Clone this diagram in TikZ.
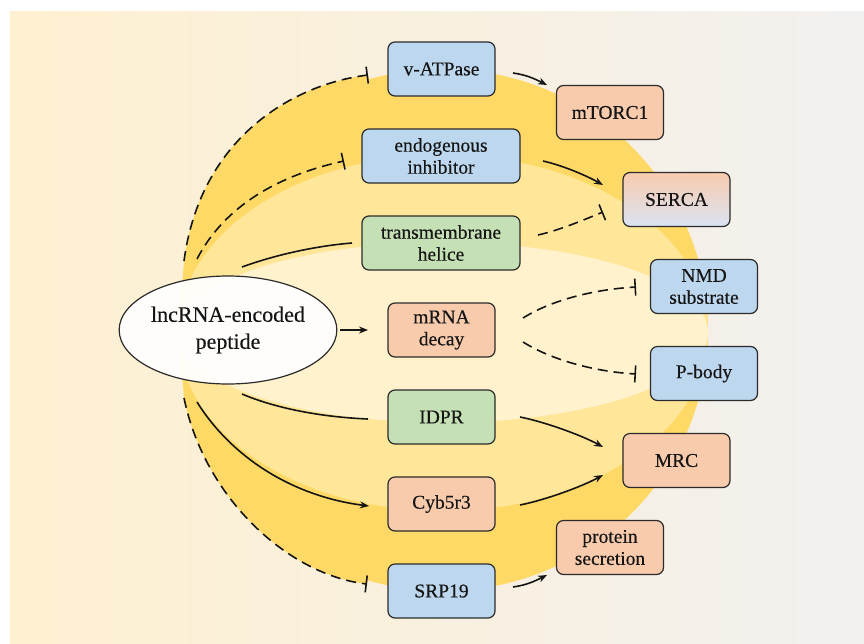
\documentclass[tikz,border=0pt]{standalone}
\usepackage{fontspec}
\setmainfont{Liberation Serif}
\newfontfamily\serifnode{Liberation Serif}[FakeBold=0.3]
\usetikzlibrary{arrows.meta,calc,shapes.geometric}
\definecolor{bgL}{HTML}{FEF0D0}
\definecolor{bgR}{HTML}{F2F0EF}
\definecolor{goldA}{HTML}{FFD966}
\definecolor{goldB}{HTML}{FFE699}
\definecolor{goldC}{HTML}{FFF2CC}
\definecolor{boxblue}{HTML}{BDD7EE}
\definecolor{boxorange}{HTML}{F8CBAD}
\definecolor{boxgreen}{HTML}{C5E0B4}
\definecolor{serbot}{HTML}{DAE3F3}
\definecolor{edgec}{HTML}{2B2B2B}
\definecolor{inkc}{HTML}{151515}
\begin{document}
\begin{tikzpicture}[x=1pt,y=-1pt,
  nbox/.style={draw=edgec, line width=1.2pt, rounded corners=7pt, minimum height=54pt,
    inner sep=0pt, align=center, text=inkc, font=\serifnode\fontsize{19.5}{22}\selectfont},
  sbox/.style={nbox, minimum width=107pt},
  wbox/.style={nbox, minimum width=158pt},
  fblue/.style={fill=boxblue},
  forange/.style={fill=boxorange},
  fgreen/.style={fill=boxgreen},
  link/.style={line width=1.6pt, draw=inkc},
  act/.style={link, -{Stealth[length=9pt,width=7pt]}},
  inh/.style={link, dash pattern=on 10pt off 6pt, -{Bar[width=17pt]}},
]
\useasboundingbox (0,0) rectangle (864,643);
% background
\shade[left color=bgL, right color=bgR] (10,11) rectangle (864,643);
% layered yellow shapes
\fill[goldA] (443,330) ellipse [x radius=265pt, y radius=261pt];
\fill[goldA] (368,75) .. controls (290,85) and (200,140) .. (184,261) -- (179,330)
  -- (184,398) .. controls (205,500) and (290,575) .. (367,584) -- (443,330) -- cycle;
\fill[goldB] (443,333) ellipse [x radius=265pt, y radius=178pt];
\fill[goldC] (443,332.5) ellipse [x radius=265pt, y radius=90pt];

% central peptide
\node[ellipse, draw=edgec, line width=1.2pt, fill=white, fill opacity=0.92, text opacity=1,
  minimum width=198pt, minimum height=108pt, inner sep=0pt, align=center, text=inkc,
  font=\serifnode\fontsize{22}{27}\selectfont] (pep) at (228,330) {lncRNA-encoded\\peptide};

% middle column
\node[sbox, fblue]   (vat)  at (441.5,69)  {v-ATPase};
\node[wbox, fblue]   (endo) at (441,156)   {endogenous\\inhibitor};
\node[wbox, fgreen]  (tm)   at (441,243)   {transmembrane\\helice};
\node[sbox, forange] (mrna) at (441.5,330) {mRNA\\decay};
\node[sbox, fgreen]  (idpr) at (441.5,417) {IDPR};
\node[sbox, forange] (cyb)  at (441.5,504) {Cyb5r3};
\node[sbox, fblue]   (srp)  at (441.5,591) {SRP19};

% right targets
\node[sbox, forange] (mtorc) at (610,112.5)   {mTORC1};
\node[sbox, top color=boxorange, bottom color=serbot] (serca) at (676.5,199.5) {SERCA};
\node[sbox, fblue]   (nmd)   at (704,286.5)   {NMD\\substrate};
\node[sbox, fblue]   (pbody) at (704,373.5)   {P-body};
\node[sbox, forange] (mrc)   at (676.5,460.5) {MRC};
\node[sbox, forange] (prot)  at (610,547.5)   {protein\\secretion};

% connectors from peptide
\draw[inh] ($(pep)+(-44,-69)$) .. controls +(16,-121) and +(-78,10) .. ($(vat)+(-73.5,6)$);
\draw[inh] ($(pep)+(-31,-71)$) .. controls +(28,-54) and +(-64,14) .. ($(endo)+(-97,5)$);
\draw[link] ($(pep)+(14,-63)$) .. controls +(33,-12) and +(-37,3) .. ($(tm)+(-89,0)$);
\draw[act] ($(pep)+(112,0)$) -- ($(mrna)+(-73.5,0)$);
\draw[link] ($(pep)+(14,64)$) .. controls +(33,14) and +(-48,-2) .. ($(idpr)+(-73.5,2)$);
\draw[act] ($(pep)+(-31,72)$) .. controls +(33,53) and +(-79,-10) .. ($(cyb)+(-72.5,2)$);
\draw[inh] ($(pep)+(-44,68)$) .. controls +(21,102) and +(-77,-9) .. ($(srp)+(-74.5,-7)$);

% connectors to targets
\draw[act] ($(vat)+(71.5,4)$) .. controls +(14,2) and +(-12,-6) .. ($(mtorc)+(-63,-27.5)$);
\draw[act] ($(endo)+(102,5)$) .. controls +(22,5) and +(-14,-8) .. ($(serca)+(-73.5,-14.5)$);
\draw[inh] ($(tm)+(97,-8)$) .. controls +(22,-5) and +(-22,9) .. ($(serca)+(-73.5,12.5)$);
\draw[inh] ($(mrna)+(81.5,-12)$) .. controls +(32,-20) and +(-36,2) .. ($(nmd)+(-68,0.5)$);
\draw[inh] ($(mrna)+(81.5,12)$) .. controls +(32,20) and +(-36,-2) .. ($(pbody)+(-68,0.5)$);
\draw[act] ($(idpr)+(78.5,0)$) .. controls +(25,5) and +(-22,-12) .. ($(mrc)+(-73.5,-13.5)$);
\draw[act] ($(cyb)+(78.5,1)$) .. controls +(25,-5) and +(-22,12) .. ($(mrc)+(-73.5,14.5)$);
\draw[act] ($(srp)+(71.5,-4)$) .. controls +(14,-2) and +(-12,6) .. ($(prot)+(-63,27.5)$);
\end{tikzpicture}
\end{document}
